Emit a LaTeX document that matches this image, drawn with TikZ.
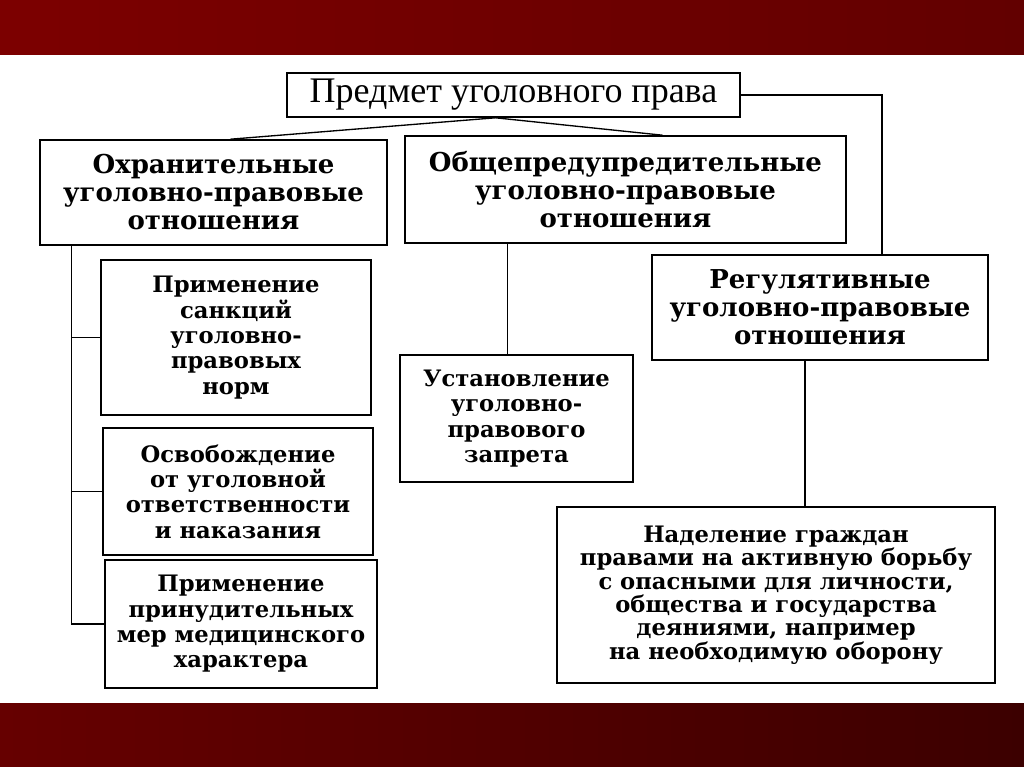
\documentclass[tikz,border=0pt]{standalone}
\usepackage{fontspec}
\setmainfont{DejaVu Serif}
\newfontfamily\headfont{Liberation Serif}
\usetikzlibrary{calc}

\definecolor{bandTopL}{RGB}{124,0,0}
\definecolor{bandTopR}{RGB}{98,0,0}
\definecolor{bandBotL}{RGB}{102,0,0}
\definecolor{bandBotR}{RGB}{60,0,0}

\tikzset{every picture/.style={line width=0.75pt}}
\tikzset{
  block/.style={draw, line width=1.2pt, align=center, inner sep=0pt,
    font=\bfseries\fontsize{19.5}{21}\selectfont},
  smallblock/.style={block, font=\bfseries\fontsize{17}{19}\selectfont},
  wideblock/.style={block, font=\bfseries\fontsize{17}{17.6}\selectfont},
  headblock/.style={block, font=\headfont\fontsize{27}{28}\selectfont},
  link/.style={line width=1pt},
}

\begin{document}
\begin{tikzpicture}[x=0.75pt,y=0.75pt,yscale=-1,xscale=1]
	\useasboundingbox (0,0) rectangle (1024,767);
	%Shape: Rectangle (bands)
	\fill [left color=bandTopL, right color=bandTopR] (0,0) rectangle (1024,55);
	\fill [left color=bandBotL, right color=bandBotR] (0,703) rectangle (1024,767);

	\node (subj) at (513.5,95) [headblock, minimum width=339.75pt, minimum height=33pt] {Предмет уголовного права};
	\node (okhr) at (213.5,192.5) [block, minimum width=260.25pt, minimum height=78.75pt] {Охранительные\\уголовно-правовые\\отношения};
	\node (obsh) at (625.5,189.5) [block, minimum width=330.75pt, minimum height=80.25pt] {Общепредупредительные\\уголовно-правовые\\отношения};
	\node (reg) at (820,307.5) [block, minimum width=252pt, minimum height=78.75pt] {Регулятивные\\уголовно-правовые\\отношения};
	\node (sanc) at (236,337.5) [smallblock, minimum width=202.5pt, minimum height=116.25pt] {Применение\\санкций\\уголовно-\\правовых\\норм};
	\node (osvob) at (238,491.5) [smallblock, minimum width=202.5pt, minimum height=95.25pt] {Освобождение\\от уголовной\\ответственности\\и наказания};
	\node (medic) at (241,624) [smallblock, minimum width=204pt, minimum height=96pt] {Применение\\принудительных\\мер медицинского\\характера};
	\node (zapret) at (516.5,418.5) [smallblock, minimum width=174.75pt, minimum height=95.25pt] {Установление\\уголовно-\\правового\\запрета};
	\node (nadel) at (776,595) [wideblock, minimum width=328.5pt, minimum height=132pt] {Наделение граждан\\правами на активную борьбу\\с опасными для личности,\\общества и государства\\деяниями, например\\на необходимую оборону};

	%Straight Lines (fork under the title)
	\coordinate (fork) at ($(subj.south)+(-18,0)$);
	\draw [link] (fork) -- ($(okhr.north)+(17,0)$);
	\draw [link] (fork) -- ($(obsh.north)+(37,0)$);
	%Straight Lines (title to regulative)
	\draw [link] (subj.east) -| ($(reg.north)+(62,0)$);
	%Straight Lines (left spine)
	\coordinate (spine) at ($(okhr.south west)+(32,0)$);
	\draw [link] (spine) |- (medic.west);
	\draw [link] (spine |- sanc.west) -- (sanc.west);
	\draw [link] (spine |- osvob.west) -- (osvob.west);
	%Straight Lines
	\coordinate (obshout) at ($(obsh.south)+(-118,0)$);
	\draw [link] (obshout) -- (obshout |- zapret.north);
	%Straight Lines
	\coordinate (regout) at ($(reg.south)+(-15,0)$);
	\draw [link] (regout) -- (regout |- nadel.north);
\end{tikzpicture}
\end{document}
